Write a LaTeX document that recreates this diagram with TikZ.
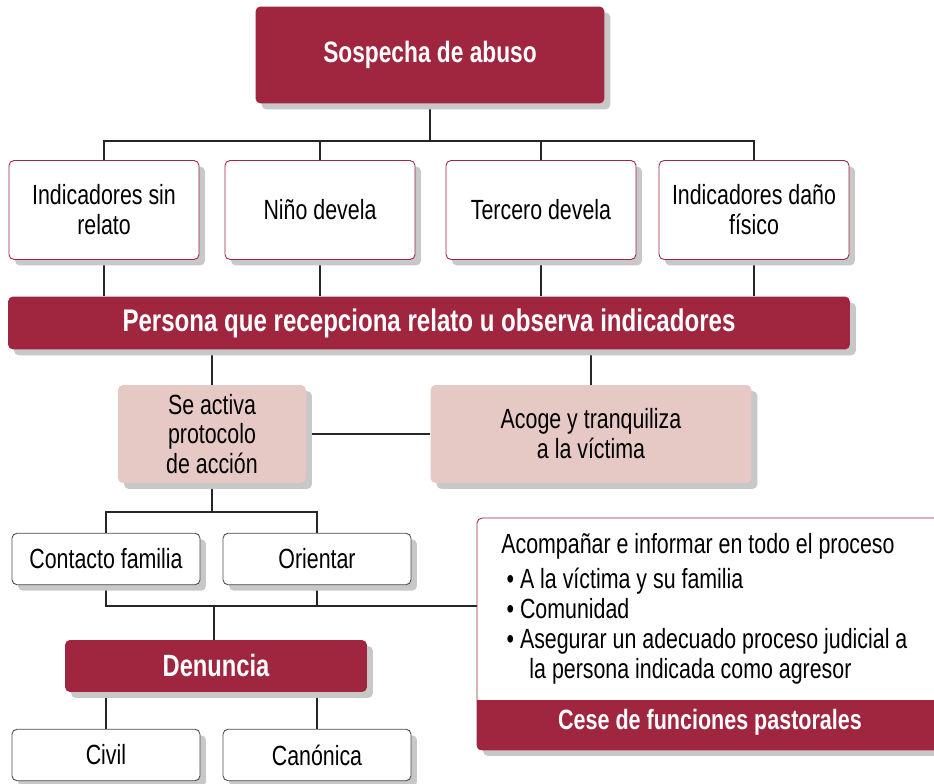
\documentclass[tikz,border=0pt]{standalone}
\usepackage{fontspec}
\setmainfont{Liberation Sans}[FakeStretch=0.77]
\usetikzlibrary{shadows,backgrounds}
\definecolor{bordo}{RGB}{160,37,63}
\definecolor{rosa}{RGB}{230,201,197}
\definecolor{sombra}{RGB}{200,200,200}

\begin{document}
\begin{tikzpicture}[x=0.02cm, y=-0.02cm,
    font=\fontsize{15.8pt}{17pt}\selectfont,
    sombreado/.style={drop shadow={shadow xshift=0.12cm, shadow yshift=-0.12cm, fill=sombra, opacity=1}},
    titulo/.style={sombreado, rectangle, rounded corners=0.1cm, fill=bordo, text=white, align=center},
    caja/.style={sombreado, rectangle, rounded corners=0.1cm, draw=bordo, line width=0.5pt, fill=white, align=center, minimum width=3.8cm, minimum height=1.98cm},
    rosabox/.style={sombreado, rectangle, rounded corners=0.1cm, fill=rosa, align=center, minimum height=1.96cm},
    chica/.style={sombreado, rectangle, rounded corners=0.1cm, draw=black!70, line width=0.5pt, fill=white, minimum width=3.76cm, minimum height=1.03cm},
    linea/.style={draw=black!85, line width=0.6pt}]
    \useasboundingbox (0,0) rectangle (934,784);

    % Sospecha
    \node[titulo, minimum width=6.98cm, minimum height=1.94cm, font=\fontsize{16.8pt}{20pt}\selectfont\bfseries] (sospecha) at (430,55) {Sospecha de abuso};

    % Casos
    \node[caja] (ind) at (104,210) {Indicadores sin\\relato};
    \node[caja] (nino) at (320,210) {Niño devela};
    \node[caja] (tercero) at (541,210) {Tercero devela};
    \node[caja] (fisico) at (754,210) {Indicadores daño\\físico};

    % Persona que recepciona
    \node[titulo, minimum width=16.84cm, minimum height=1.06cm, font=\fontsize{17.8pt}{20pt}\selectfont\bfseries] (persona) at (429,323) {Persona que recepciona relato u observa indicadores};

    % Protocolo y acogida
    \node[rosabox, minimum width=3.76cm] (protocolo) at (212,434) {Se activa\\protocolo\\de acción};
    \node[rosabox, minimum width=6.42cm] (acoge) at (591,434) {Acoge y tranquiliza\\a la víctima};

    % Acciones
    \node[chica] (contacto) at (106,559) {Contacto familia};
    \node[chica] (orientar) at (317,559) {Orientar};

    % Denuncia
    \node[titulo, minimum width=6.04cm, minimum height=1.04cm, font=\fontsize{17.5pt}{20pt}\selectfont\bfseries] (denuncia) at (216,666) {Denuncia};
    \node[chica] (civil) at (106,755) {Civil};
    \node[chica] (canonica) at (317,755) {Canónica};

    % Panel derecho
    \node[sombreado, rectangle, rounded corners=0.1cm, draw=bordo, line width=0.5pt, fill=white, minimum width=9.4cm, minimum height=4.64cm] (panel) at (712,634) {};
    \coordinate (cesetop) at (477,700);
    \begin{scope}
        \clip[rounded corners=0.1cm] (panel.north west) rectangle (panel.south east);
        \fill[bordo] (cesetop) rectangle (panel.south east);
    \end{scope}
    \node[anchor=north west, inner sep=0pt, align=left] (acomp) at (501,533) {Acompañar e informar en todo el proceso\\[3pt]
        \hspace*{3pt}• A la víctima y su familia\\
        \hspace*{3pt}• Comunidad\\
        \hspace*{3pt}• Asegurar un adecuado proceso judicial a\\
        \hspace*{16pt}la persona indicada como agresor};
    \node[text=white, font=\fontsize{15.9pt}{18pt}\selectfont\bfseries] (cese) at (710,722) {Cese de funciones pastorales};

    % Conectores
    \begin{pgfonlayer}{background}
        \fill[white] (0,0) rectangle (934,784);
        \coordinate (j1) at (430,141);
        \draw[linea] (sospecha.south) -- (j1);
        \draw[linea] (ind.north) |- (j1) -| (fisico.north);
        \draw[linea] (nino.north) -- (nino.north |- j1);
        \draw[linea] (tercero.north) -- (tercero.north |- j1);
        \foreach \c in {ind,nino,tercero,fisico}
            \draw[linea] (\c.south) -- (\c.south |- persona.north);
        \draw[linea] (protocolo.north) -- (protocolo.north |- persona.south);
        \draw[linea] (acoge.north) -- (acoge.north |- persona.south);
        \draw[linea] (protocolo) -- (acoge);
        \coordinate (j2) at (212,512);
        \draw[linea] (protocolo.south) -- (j2);
        \draw[linea] (contacto.north) |- (j2) -| (orientar.north);
        \coordinate (j3) at (214,606);
        \draw[linea] (contacto.south) |- (j3 -| panel.west);
        \draw[linea] (orientar.south) -- (orientar.south |- j3);
        \draw[linea] (j3) -- (j3 |- denuncia.north);
        \draw[linea] (civil.north) -- (civil.north |- denuncia.south);
        \draw[linea] (canonica.north) -- (canonica.north |- denuncia.south);
    \end{pgfonlayer}
\end{tikzpicture}
\end{document}
